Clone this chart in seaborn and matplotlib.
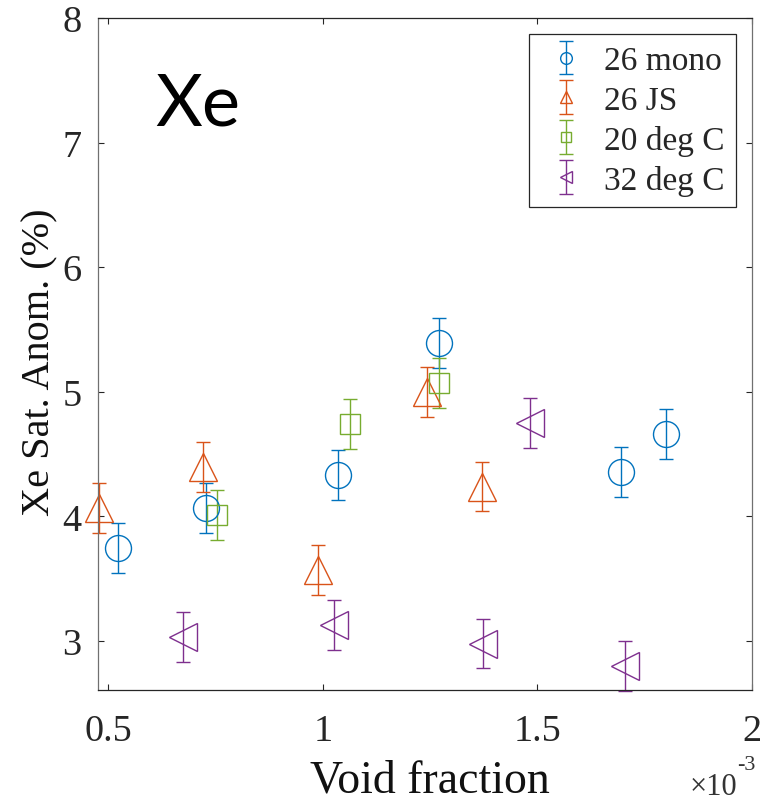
import numpy as np
import pandas as pd
import matplotlib
matplotlib.use("Agg")
import matplotlib.pyplot as plt
import seaborn as sns
from matplotlib.ticker import FuncFormatter, MultipleLocator

# Werte (Void fraction, Xe Sat. Anom. in %)
mono_x = [0.523e-3, 0.728e-3, 1.035e-3, 1.270e-3, 1.695e-3, 1.800e-3]
mono_y = [3.75, 4.07, 4.33, 5.39, 4.36, 4.66]
mono_err = [0.20, 0.20, 0.20, 0.20, 0.20, 0.20]

js_x = [0.478e-3, 0.720e-3, 0.988e-3, 1.242e-3, 1.371e-3]
js_y = [4.07, 4.40, 3.57, 5.00, 4.24]
js_err = [0.20, 0.20, 0.20, 0.20, 0.20]

c20_x = [0.753e-3, 1.063e-3, 1.272e-3]
c20_y = [4.01, 4.74, 5.07]
c20_err = [0.20, 0.20, 0.20]

c32_x = [0.674e-3, 1.026e-3, 1.373e-3, 1.484e-3, 1.703e-3]
c32_y = [3.03, 3.13, 2.98, 4.75, 2.80]
c32_err = [0.20, 0.20, 0.20, 0.20, 0.20]

labels = ['26 mono', '26 JS', '20 deg C', '32 deg C']

df = pd.concat([
    pd.DataFrame({'x': mono_x, 'y': mono_y, 'err': mono_err, 'serie': labels[0]}),
    pd.DataFrame({'x': js_x, 'y': js_y, 'err': js_err, 'serie': labels[1]}),
    pd.DataFrame({'x': c20_x, 'y': c20_y, 'err': c20_err, 'serie': labels[2]}),
    pd.DataFrame({'x': c32_x, 'y': c32_y, 'err': c32_err, 'serie': labels[3]}),
])

sns.set_theme(style="ticks")
plt.rcParams['font.family'] = ['Liberation Serif', 'DejaVu Serif']

# MATLAB-Standardfarben
palette = sns.color_palette(['#0072BD', '#D95319', '#77AC30', '#7E2F8E'])
markers = {'26 mono': ('o', 18.7), '26 JS': ('^', 20), '20 deg C': ('s', 14.5), '32 deg C': ('<', 20)}

fig = plt.figure(figsize=(7.69, 8.03), dpi=100)
ax = fig.add_axes([0.1274, 0.1399, 0.8505, 0.8364])

for i, name in enumerate(labels):
    d = df[df['serie'] == name]
    m, ms = markers[name]
    ax.errorbar(d['x'], d['y'], yerr=d['err'], fmt=m, ms=ms, mfc='none',
                mec=palette[i], color=palette[i], mew=1.0, elinewidth=1.0,
                capsize=4.8, label=name, clip_on=False)

ax.set_xlim(0.4765e-3, 2.0e-3)
ax.set_ylim(2.61, 8)
ax.xaxis.set_major_locator(MultipleLocator(0.5e-3))
ax.yaxis.set_major_locator(MultipleLocator(1))
ax.xaxis.set_major_formatter(FuncFormatter(lambda v, p: f'{v * 1e3:g}'))
ax.yaxis.set_major_formatter(FuncFormatter(lambda v, p: f'{v:g}'))

ax.tick_params(direction='in', length=4.3, width=0.8, top=True, right=True,
               labelsize=27.5, colors='#262626')
ax.tick_params(axis='x', pad=17)
ax.tick_params(axis='y', pad=12)
for s in ['top', 'bottom']:
    ax.spines[s].set_color('#262626')
for s in ['left', 'right']:
    ax.spines[s].set_color('#707070')
for s in ax.spines.values():
    s.set_linewidth(0.9)

ax.set_xlabel('Void fraction', fontsize=33, color='#111111', va='baseline')
ax.xaxis.set_label_coords(0.508, -0.152)
ax.set_ylabel('Xe Sat. Anom. (%)', fontsize=29, color='#111111')
ax.yaxis.set_label_coords(-0.061, 0.489)

# Exponent wie bei MATLAB
fig.text(737 / 769, 8 / 803, '\u00d710', fontsize=22, ha='right', va='baseline', color='#333333')
fig.text(737 / 769, 33 / 803, '-3', fontsize=16, ha='left', va='baseline', color='#333333')

ax.text(0.087, 0.841, 'Xe', transform=ax.transAxes, fontsize=52,
        family=['Lato', 'DejaVu Sans'], va='baseline', ha='left', color='black')

leg = ax.legend(loc='upper right', fontsize=24, frameon=True, fancybox=False,
                edgecolor='#262626', framealpha=1, borderaxespad=0.48,
                handlelength=1.5, handletextpad=0.4, labelspacing=0.27,
                borderpad=0.35, markerscale=0.45)
leg.get_frame().set_linewidth(0.9)

fig.savefig('out.png', dpi=100)
